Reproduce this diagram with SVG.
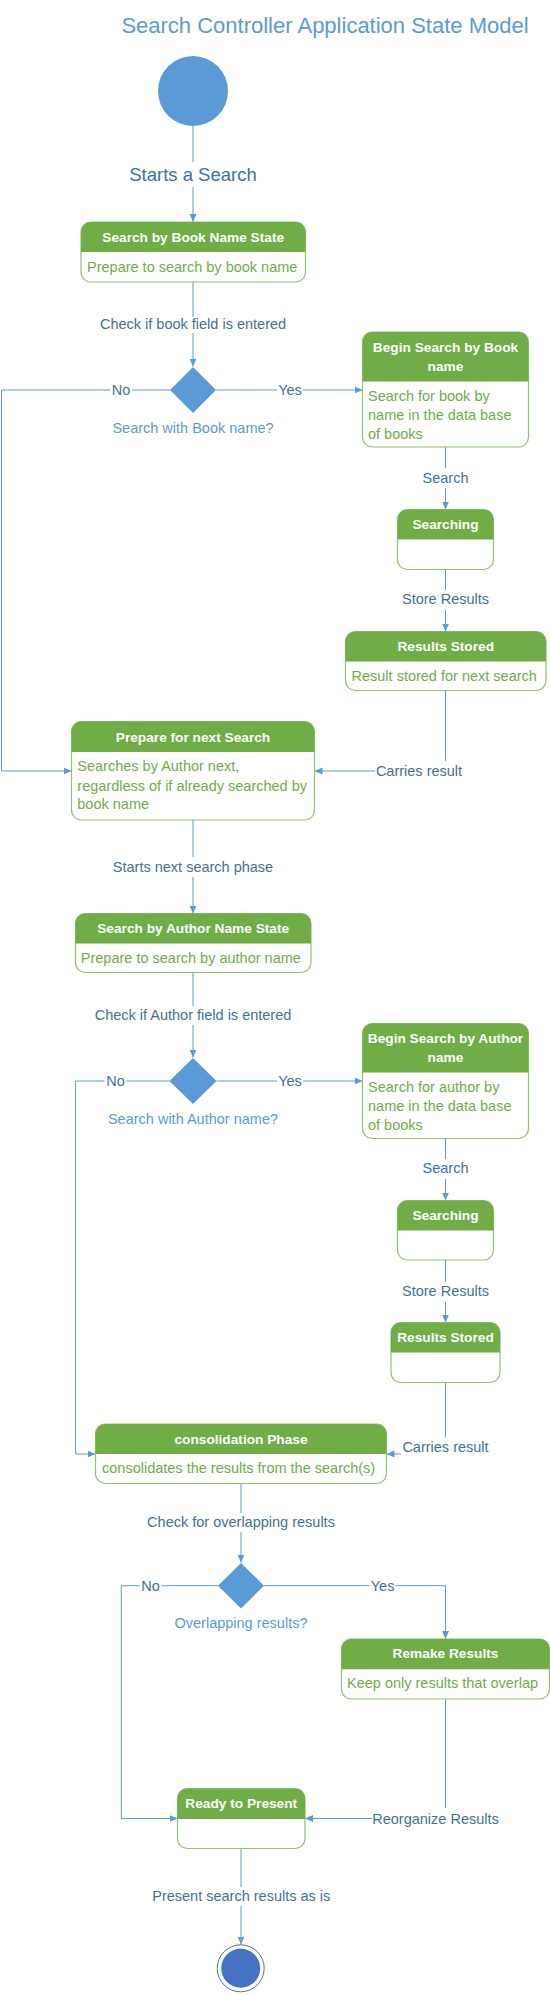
<svg xmlns="http://www.w3.org/2000/svg" width="550" height="1996" viewBox="0 0 550 1996">
<style>
text{font-family:"Liberation Sans",Arial,sans-serif}
.title{font-size:22px;fill:#5B9BD5;text-anchor:middle}
.lbl{font-size:14.5px;fill:#41719C;text-anchor:middle}
.lbl-big{font-size:18.5px;fill:#41719C;text-anchor:middle}
.cond{font-size:14.5px;fill:#5B9BD5;text-anchor:middle}
.hdr{font-size:13.7px;font-weight:bold;fill:#FFFFFF;text-anchor:middle}
.body{font-size:14.5px;fill:#70AD47}
.box{fill:#FFFFFF;stroke:#8FC46E;stroke-width:1.2}
.head{fill:#70AD47}
.conn{fill:none;stroke:#5B9BD5;stroke-width:1}
.bg{fill:#FFFFFF}
.dia{fill:#5B9BD5}
</style>
<defs>
<marker id="arr" markerUnits="userSpaceOnUse" markerWidth="9" markerHeight="8" refX="8" refY="3.5" orient="auto">
<path d="M0,0 L8,3.5 L0,7 z" fill="#5B9BD5"/>
</marker>
</defs>
<rect width="550" height="1996" fill="#FFFFFF"/>
<text class="title" x="325" y="33.3">Search Controller Application State Model</text>

<g id="connectors">
<path class="conn" d="M193,126 V222" marker-end="url(#arr)"/>
<path class="conn" d="M193,282 V366.5" marker-end="url(#arr)"/>
<path class="conn" d="M216,390 H362.5" marker-end="url(#arr)"/>
<path class="conn" d="M170,390 H1.5 V771 H71.5" marker-end="url(#arr)"/>
<path class="conn" d="M445.5,447 V509.5" marker-end="url(#arr)"/>
<path class="conn" d="M445.5,569.5 V631.5" marker-end="url(#arr)"/>
<path class="conn" d="M445.5,690.5 V771 H314.5" marker-end="url(#arr)"/>
<path class="conn" d="M193,820 V913.5" marker-end="url(#arr)"/>
<path class="conn" d="M193,972.5 V1057.5" marker-end="url(#arr)"/>
<path class="conn" d="M216.5,1081 H362.5" marker-end="url(#arr)"/>
<path class="conn" d="M170,1081 H75.6 V1454 H95.5" marker-end="url(#arr)"/>
<path class="conn" d="M445.5,1138.5 V1200.5" marker-end="url(#arr)"/>
<path class="conn" d="M445.5,1260 V1322.5" marker-end="url(#arr)"/>
<path class="conn" d="M445.5,1382.5 V1454 H386.5" marker-end="url(#arr)"/>
<path class="conn" d="M241,1483.5 V1562.5" marker-end="url(#arr)"/>
<path class="conn" d="M264,1585.7 H445.5 V1639" marker-end="url(#arr)"/>
<path class="conn" d="M218,1585.7 H121.3 V1818.5 H177.5" marker-end="url(#arr)"/>
<path class="conn" d="M445.5,1699 V1818.5 H305" marker-end="url(#arr)"/>
<path class="conn" d="M241,1848.5 V1944.5" marker-end="url(#arr)"/>

<rect class="bg" x="128" y="162" width="130" height="25"/>
<text class="lbl-big" x="193" y="181">Starts a Search</text>
<rect class="bg" x="97" y="317" width="192" height="16"/>
<text class="lbl" x="193" y="329">Check if book field is entered</text>
<rect class="bg" x="277" y="381" width="26" height="18"/>
<text class="lbl" x="290" y="395">Yes</text>
<rect class="bg" x="110" y="381" width="22" height="18"/>
<text class="lbl" x="121" y="395">No</text>
<rect class="bg" x="422" y="468" width="47" height="20"/>
<text class="lbl" x="445.5" y="482.7">Search</text>
<rect class="bg" x="401" y="590" width="89" height="20"/>
<text class="lbl" x="445.5" y="604">Store Results</text>
<rect class="bg" x="375" y="761" width="89" height="20"/>
<text class="lbl" x="419" y="776">Carries result</text>
<rect class="bg" x="112" y="857" width="162" height="20"/>
<text class="lbl" x="193" y="871.7">Starts next search phase</text>
<rect class="bg" x="91" y="1006" width="204" height="19"/>
<text class="lbl" x="193" y="1020">Check if Author field is entered</text>
<rect class="bg" x="277" y="1072" width="26" height="18"/>
<text class="lbl" x="290" y="1086">Yes</text>
<rect class="bg" x="104.5" y="1072" width="22" height="18"/>
<text class="lbl" x="115.5" y="1086">No</text>
<rect class="bg" x="422" y="1159" width="47" height="20"/>
<text class="lbl" x="445.5" y="1173.3">Search</text>
<rect class="bg" x="401" y="1282" width="89" height="20"/>
<text class="lbl" x="445.5" y="1296">Store Results</text>
<rect class="bg" x="401" y="1437" width="89" height="19"/>
<text class="lbl" x="445.5" y="1452">Carries result</text>
<rect class="bg" x="145" y="1513" width="192" height="19"/>
<text class="lbl" x="241" y="1526.7">Check for overlapping results</text>
<rect class="bg" x="369.5" y="1577" width="26" height="18"/>
<text class="lbl" x="382.6" y="1591">Yes</text>
<rect class="bg" x="139.5" y="1577" width="22" height="18"/>
<text class="lbl" x="150.5" y="1591">No</text>
<rect class="bg" x="372" y="1808" width="127" height="20"/>
<text class="lbl" x="435.5" y="1823.5">Reorganize Results</text>
<rect class="bg" x="152" y="1887" width="178" height="19"/>
<text class="lbl" x="241.3" y="1900.7">Present search results as is</text>
</g>

<g id="start">
<circle cx="193" cy="91" r="35" fill="#5B9BD5"/>
</g>

<g id="bookState">
<rect class="box" x="81" y="222" width="224.5" height="60" rx="10"/>
<path class="head" d="M81,252 V232 A10,10 0 0 1 91,222 H295.5 A10,10 0 0 1 305.5,232 V252 Z"/>
<text class="hdr" x="193.2" y="241.7">Search by Book Name State</text>
<text class="body" x="87" y="271.7">Prepare to search by book name</text>
</g>

<g id="decisionBook">
<polygon class="dia" points="193,367 216,390 193,413 170,390"/>
<text class="cond" x="193" y="433">Search with Book name?</text>
</g>

<g id="beginBook">
<rect class="box" x="362.5" y="332" width="166" height="115" rx="10"/>
<path class="head" d="M362.5,381.5 V342 A10,10 0 0 1 372.5,332 H518.5 A10,10 0 0 1 528.5,342 V381.5 Z"/>
<text class="hdr" x="445.5" y="352.3">Begin Search by Book</text>
<text class="hdr" x="445.5" y="371">name</text>
<text class="body" x="368" y="400.7">Search for book by</text>
<text class="body" x="368" y="420">name in the data base</text>
<text class="body" x="368" y="439">of books</text>
</g>

<g id="searching1">
<rect class="box" x="397.5" y="509.5" width="96" height="60" rx="10"/>
<path class="head" d="M397.5,539.5 V519.5 A10,10 0 0 1 407.5,509.5 H483.5 A10,10 0 0 1 493.5,519.5 V539.5 Z"/>
<text class="hdr" x="445.5" y="529">Searching</text>
</g>

<g id="stored1">
<rect class="box" x="345.5" y="631.5" width="200.5" height="59" rx="10"/>
<path class="head" d="M345.5,661.5 V641.5 A10,10 0 0 1 355.5,631.5 H536 A10,10 0 0 1 546,641.5 V661.5 Z"/>
<text class="hdr" x="445.75" y="650.7">Results Stored</text>
<text class="body" x="351.5" y="680.7">Result stored for next search</text>
</g>

<g id="prepareNext">
<rect class="box" x="71.5" y="721.5" width="243" height="98.5" rx="10"/>
<path class="head" d="M71.5,752 V731.5 A10,10 0 0 1 81.5,721.5 H304.5 A10,10 0 0 1 314.5,731.5 V752 Z"/>
<text class="hdr" x="193" y="741.7">Prepare for next Search</text>
<text class="body" x="77.3" y="770.7">Searches by Author next,</text>
<text class="body" x="77.3" y="790.7">regardless of if already searched by</text>
<text class="body" x="77.3" y="809.3">book name</text>
</g>

<g id="authorState">
<rect class="box" x="75.5" y="913.5" width="235.5" height="59" rx="10"/>
<path class="head" d="M75.5,943.5 V923.5 A10,10 0 0 1 85.5,913.5 H301 A10,10 0 0 1 311,923.5 V943.5 Z"/>
<text class="hdr" x="193.2" y="933.3">Search by Author Name State</text>
<text class="body" x="80.8" y="962.7">Prepare to search by author name</text>
</g>

<g id="decisionAuthor">
<polygon class="dia" points="193,1058 216.5,1081 193,1104 169.5,1081"/>
<text class="cond" x="193" y="1124">Search with Author name?</text>
</g>

<g id="beginAuthor">
<rect class="box" x="362.5" y="1023.5" width="166" height="115" rx="10"/>
<path class="head" d="M362.5,1072.5 V1033.5 A10,10 0 0 1 372.5,1023.5 H518.5 A10,10 0 0 1 528.5,1033.5 V1072.5 Z"/>
<text class="hdr" x="445.5" y="1042.7">Begin Search by Author</text>
<text class="hdr" x="445.5" y="1061.7">name</text>
<text class="body" x="368" y="1091.7">Search for author by</text>
<text class="body" x="368" y="1110.7">name in the data base</text>
<text class="body" x="368" y="1130">of books</text>
</g>

<g id="searching2">
<rect class="box" x="397.5" y="1200.5" width="96" height="59.5" rx="10"/>
<path class="head" d="M397.5,1230.5 V1210.5 A10,10 0 0 1 407.5,1200.5 H483.5 A10,10 0 0 1 493.5,1210.5 V1230.5 Z"/>
<text class="hdr" x="445.5" y="1220">Searching</text>
</g>

<g id="stored2">
<rect class="box" x="391" y="1322.5" width="109" height="60" rx="10"/>
<path class="head" d="M391,1352.5 V1332.5 A10,10 0 0 1 401,1322.5 H490 A10,10 0 0 1 500,1332.5 V1352.5 Z"/>
<text class="hdr" x="445.5" y="1341.7">Results Stored</text>
</g>

<g id="consolidation">
<rect class="box" x="95.5" y="1424" width="291" height="59.5" rx="10"/>
<path class="head" d="M95.5,1454 V1434 A10,10 0 0 1 105.5,1424 H376.5 A10,10 0 0 1 386.5,1434 V1454 Z"/>
<text class="hdr" x="241" y="1444">consolidation Phase</text>
<text class="body" x="102" y="1473.3">consolidates the results from the search(s)</text>
</g>

<g id="decisionOverlap">
<polygon class="dia" points="241,1563 264,1585.7 241,1608.5 218,1585.7"/>
<text class="cond" x="241" y="1628.3">Overlapping results?</text>
</g>

<g id="remake">
<rect class="box" x="341.5" y="1639" width="208" height="60" rx="10"/>
<path class="head" d="M341.5,1669.3 V1649 A10,10 0 0 1 351.5,1639 H539.5 A10,10 0 0 1 549.5,1649 V1669.3 Z"/>
<text class="hdr" x="445.5" y="1658.3">Remake Results</text>
<text class="body" x="347" y="1688.3">Keep only results that overlap</text>
</g>

<g id="ready">
<rect class="box" x="177.5" y="1788.5" width="127.5" height="60" rx="10"/>
<path class="head" d="M177.5,1819 V1798.5 A10,10 0 0 1 187.5,1788.5 H295 A10,10 0 0 1 305,1798.5 V1819 Z"/>
<text class="hdr" x="241.25" y="1808.3">Ready to Present</text>
</g>

<g id="end">
<circle cx="240.7" cy="1968.3" r="23.5" fill="#FFFFFF" stroke="#4472C4" stroke-width="1"/>
<circle cx="240.7" cy="1968.3" r="19.5" fill="#4472C4"/>
</g>
</svg>
